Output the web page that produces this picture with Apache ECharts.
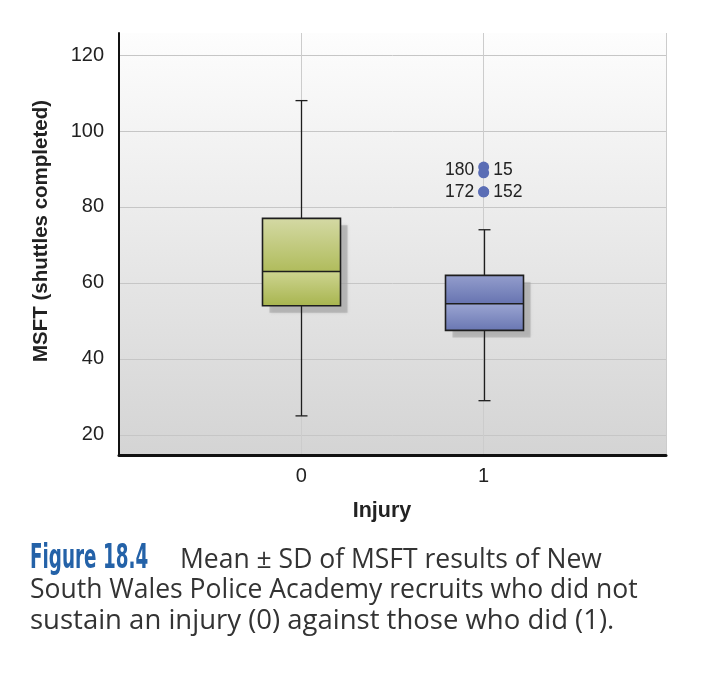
<!DOCTYPE html>
<html><head><meta charset="utf-8">
<script src="https://cdn.jsdelivr.net/npm/echarts@6/dist/echarts.min.js"></script>
<style>html,body{margin:0;padding:0;background:#fff}#c{width:707px;height:676px}</style>
</head><body><div id="c"></div>
<script>
// ---- data ----
const categories = ['', '0', '1', ''];
const groupIndex = [1, 2];            // positions of groups '0' and '1' on the category axis
const whiskerLow = [25, 29];
const quartile1 = [54, 47.5];
const median = [63, 54.5];
const quartile3 = [77, 62];
const whiskerHigh = [108, 74];
const outlierGroupIndex = [2, 2, 2, 2];
const outlierValues = [90.5, 89, 84, 84];
const outlierLabels = ['180', '15', '172', '152'];
const yTicks = [20, 40, 60, 80, 100, 120];
const yAxisTitle = 'MSFT (shuttles completed)';
const xAxisTitle = 'Injury';
const figureLabel = 'Figure 18.4';
const captionLines = [
  'Mean \u00b1 SD of MSFT results of New',
  'South Wales Police Academy recruits who did not',
  'sustain an injury (0) against those who did (1).'
];

// ---- styles ----
const palettes = [
  { upper: ['#d4d9a4', '#b0bc5c'], lower: ['#cdd490', '#a8b54f'] },
  { upper: ['#939dcc', '#6774b1'], lower: ['#9aa4d1', '#6a77b3'] }
];
const labelShift = [3, -3, 0, 0];

const boxData = groupIndex.map((g, i) => [g, whiskerLow[i], quartile1[i], median[i], quartile3[i], whiskerHigh[i]]);
const outlierData = outlierValues.map((v, i) => ({
  name: outlierLabels[i],
  value: [outlierGroupIndex[i], v],
  label: { position: i % 2 === 0 ? 'left' : 'right', offset: [0, labelShift[i]] }
}));

function grad(c) {
  return new echarts.graphic.LinearGradient(0, 0, 0, 1, [{ offset: 0, color: c[0] }, { offset: 1, color: c[1] }]);
}

function renderBox(params, api) {
  const i = params.dataIndex;
  const x = api.value(0);
  const pMin = api.coord([x, api.value(1)]);
  const pQ1 = api.coord([x, api.value(2)]);
  const pMed = api.coord([x, api.value(3)]);
  const pQ3 = api.coord([x, api.value(4)]);
  const pMax = api.coord([x, api.value(5)]);
  const cx = Math.round(pMin[0]) + 0.5;
  const hw = 39, cap = 6;
  const pal = palettes[i];
  const stroke = { stroke: '#1e1e1e', lineWidth: 1.3 };
  return {
    type: 'group',
    children: [
      { type: 'rect', shape: { x: cx - hw + 7, y: pQ3[1] + 7, width: 2 * hw, height: pQ1[1] - pQ3[1] },
        style: { fill: 'rgba(160,160,160,0.55)', shadowBlur: 3, shadowColor: 'rgba(150,150,150,0.6)' } },
      { type: 'line', shape: { x1: cx, y1: pMax[1], x2: cx, y2: pQ3[1] }, style: stroke },
      { type: 'line', shape: { x1: cx, y1: pQ1[1], x2: cx, y2: pMin[1] }, style: stroke },
      { type: 'line', shape: { x1: cx - cap, y1: pMax[1], x2: cx + cap, y2: pMax[1] }, style: stroke },
      { type: 'line', shape: { x1: cx - cap, y1: pMin[1], x2: cx + cap, y2: pMin[1] }, style: stroke },
      { type: 'rect', shape: { x: cx - hw, y: pQ3[1], width: 2 * hw, height: pMed[1] - pQ3[1] }, style: { fill: grad(pal.upper) } },
      { type: 'rect', shape: { x: cx - hw, y: pMed[1], width: 2 * hw, height: pQ1[1] - pMed[1] }, style: { fill: grad(pal.lower) } },
      { type: 'rect', shape: { x: cx - hw, y: pQ3[1], width: 2 * hw, height: pQ1[1] - pQ3[1] }, style: { fill: 'none', stroke: '#1e1e1e', lineWidth: 1.6 } },
      { type: 'line', shape: { x1: cx - hw, y1: pMed[1], x2: cx + hw, y2: pMed[1] }, style: { stroke: '#1e1e1e', lineWidth: 1.6 } }
    ]
  };
}

const chart = echarts.init(document.getElementById('c'), null, { renderer: 'canvas' });
const captionFont = '"Open Sans", "Noto Sans", sans-serif';
const axisFont = 'Liberation Sans, Arial, sans-serif';
chart.setOption({
  backgroundColor: '#ffffff',
  animation: false,
  grid: {
    left: 119, right: 41, top: 33, bottom: 221,
    show: true, borderWidth: 0,
    backgroundColor: new echarts.graphic.LinearGradient(0, 0, 0, 1, [
      { offset: 0, color: '#fdfdfd' }, { offset: 1, color: '#d4d4d4' }
    ])
  },
  xAxis: {
    type: 'category',
    data: categories,
    boundaryGap: false,
    name: xAxisTitle,
    nameLocation: 'middle',
    nameGap: 45,
    nameTextStyle: { fontFamily: axisFont, fontSize: 21.5, fontWeight: 'bold', color: '#222', padding: [0, 21, 0, 0] },
    axisLine: { show: true, lineStyle: { color: '#111', width: 3 } },
    axisTick: { show: false },
    axisLabel: { fontFamily: axisFont, fontSize: 20, color: '#222', margin: 11 },
    splitLine: { show: true, lineStyle: { color: '#cccccc', width: 1 } }
  },
  yAxis: {
    type: 'value',
    min: 14.7, max: 125.8,
    name: yAxisTitle,
    nameLocation: 'middle',
    nameGap: 67,
    nameRotate: 90,
    nameTextStyle: { fontFamily: axisFont, fontSize: 20.5, fontWeight: 'bold', color: '#222', padding: [0, 0, 0, 26] },
    axisLine: { show: true, lineStyle: { color: '#111', width: 2 } },
    axisTick: { show: false, customValues: yTicks },
    axisLabel: { customValues: yTicks, fontFamily: axisFont, fontSize: 20, color: '#222', margin: 15 },
    splitLine: { show: true, lineStyle: { color: '#c6c6c6', width: 1 } }
  },
  series: [
    {
      type: 'custom',
      name: 'box',
      renderItem: renderBox,
      dimensions: ['group', 'min', 'q1', 'median', 'q3', 'max'],
      encode: { x: 0, y: [1, 2, 3, 4, 5] },
      data: boxData,
      z: 3
    },
    {
      type: 'scatter',
      name: 'outliers',
      data: outlierData,
      symbolSize: 11,
      itemStyle: { color: '#5a6db5', opacity: 1 },
      label: {
        show: true, formatter: '{b}', distance: 4,
        fontFamily: axisFont, fontSize: 17.5, color: '#222'
      },
      z: 4
    }
  ],
  graphic: [
    { type: 'text', left: 30, top: 542, scaleX: 0.6, style: { text: figureLabel, font: 'bold 34px "Liberation Sans Narrow", "DejaVu Sans Condensed", "DejaVu Sans", sans-serif', fill: '#2462a8' } },
    { type: 'text', left: 180, top: 547, style: { text: captionLines[0], font: '26.5px ' + captionFont, fill: '#333' } },
    { type: 'text', left: 30, top: 577, style: { text: captionLines[1], font: '26.5px ' + captionFont, fill: '#333' } },
    { type: 'text', left: 30, top: 607, style: { text: captionLines[2], font: '27.5px ' + captionFont, fill: '#333' } }
  ]
});
</script></body></html>
